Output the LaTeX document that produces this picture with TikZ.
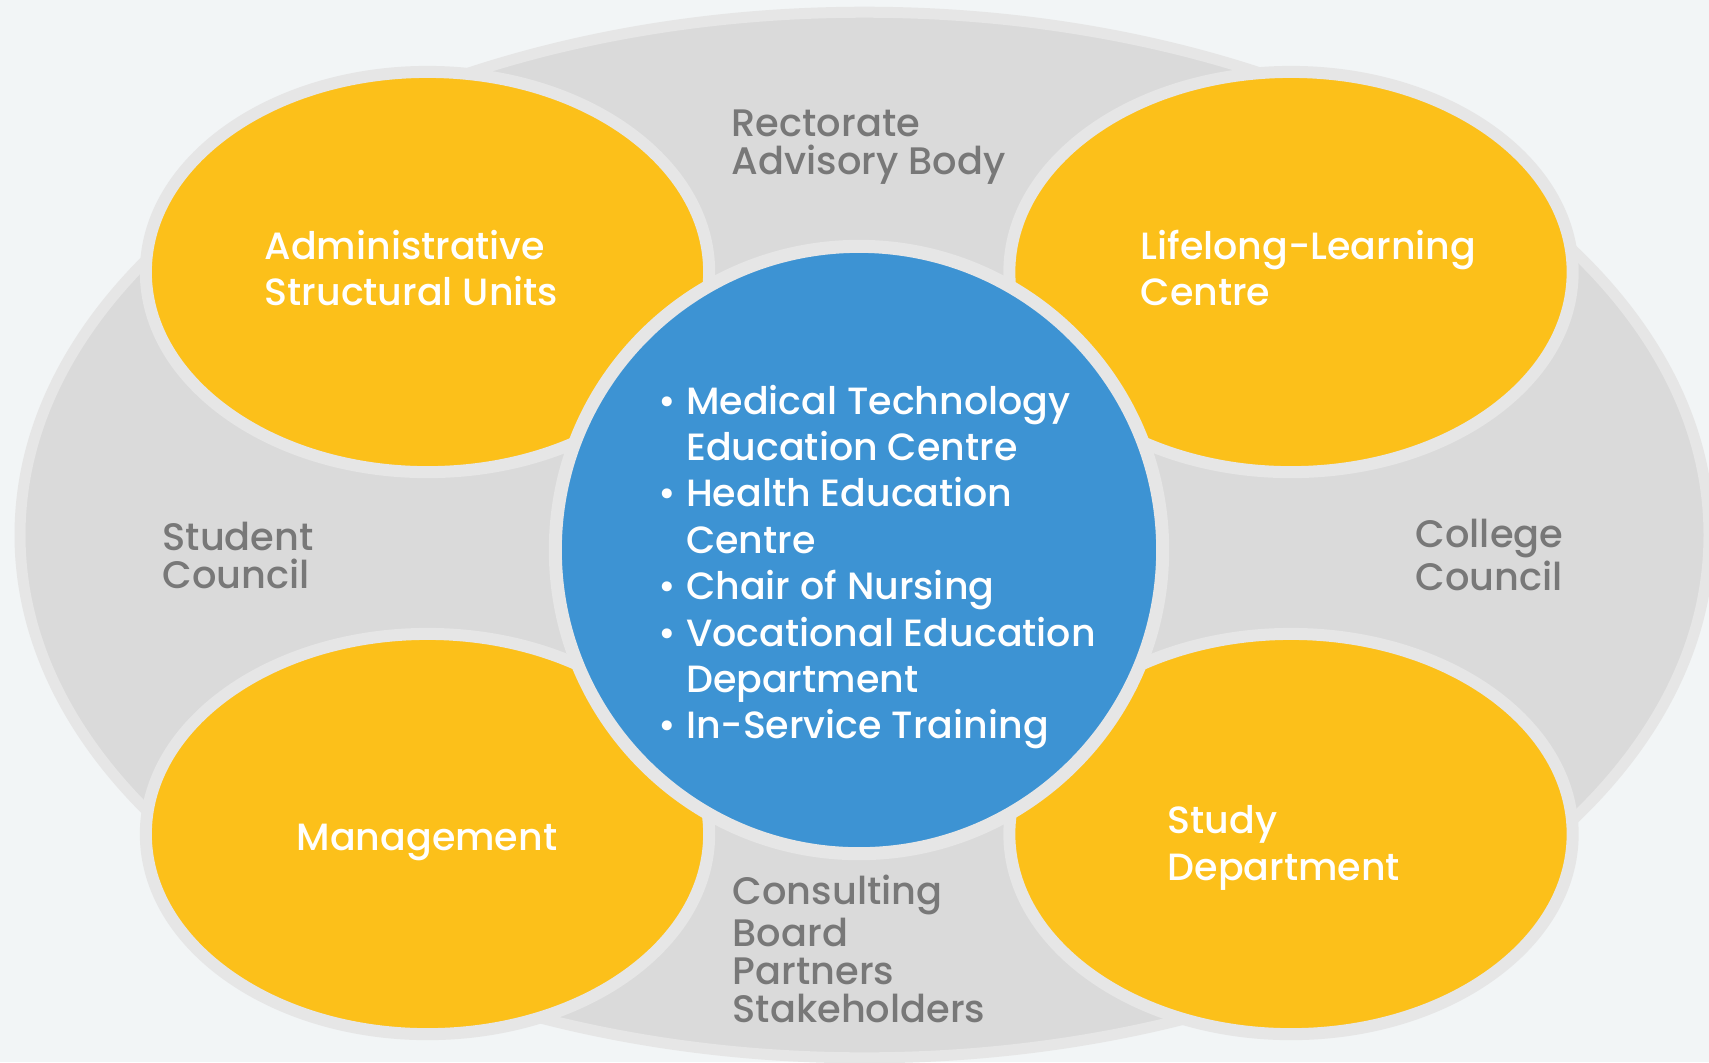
\documentclass[tikz,border=0pt]{standalone}
\usepackage{fontspec}
\setmainfont{Poppins}
\newfontfamily\medfont{Poppins Medium}
\usetikzlibrary{shapes.geometric}

\definecolor{bgcol}{RGB}{242,245,246}
\definecolor{ringgray}{RGB}{218,218,218}
\definecolor{rimgray}{RGB}{230,230,230}
\definecolor{unitorange}{RGB}{252,192,26}
\definecolor{coreblue}{RGB}{61,147,211}
\definecolor{labelgray}{RGB}{120,120,120}

\begin{document}
\begin{tikzpicture}[x=0.01cm,y=-0.01cm,
        unit/.style={draw=rimgray,fill=unitorange,ellipse,line width=0.12cm,
                     minimum width=5.63cm,minimum height=4cm,inner sep=0,outer sep=0},
        whitetext/.style={text=white,align=left,anchor=west,inner sep=0,
                          font=\medfont\fontsize{10.8}{13.2}\selectfont},
        graytext/.style={text=labelgray,align=left,anchor=west,inner sep=0,
                         font=\medfont\fontsize{10.9}{10.8}\selectfont}]
        \useasboundingbox (0,0) rectangle (1709,1062);
        \fill[bgcol] (0,0) rectangle (1709,1062);

        % Outer ring
        \node[draw=rimgray,fill=ringgray,ellipse,line width=0.11cm,
              minimum width=16.88cm,minimum height=10.45cm,inner sep=0] (ring) at (864.5,535) {};

        % Units
        \node[unit] (adm) at (427.5,272) {};
        \node[unit] (llc) at (1291,272) {};
        \node[unit] (mgt) at (427.5,834) {};
        \node[unit] (std) at (1291,834) {};

        % Core
        \node[draw=rimgray,fill=coreblue,circle,line width=0.13cm,
              minimum size=6.07cm,inner sep=0] (core) at (859,550) {};

        % Unit texts
        \node[whitetext] (admtxt) at (264,268) {Administrative\\Structural Units};
        \node[whitetext] (llctxt) at (1140,268) {Lifelong-Learning\\Centre};
        \node[whitetext] (mgttxt) at (296,842) {Management};
        \node[whitetext] (stdtxt) at (1167,848) {Study\\Department};

        % Core list
        \node[whitetext] (list) at (658,567)
            {\textbullet\ Medical Technology\\
             \hphantom{\textbullet\ }Education Centre\\
             \textbullet\ Health Education\\
             \hphantom{\textbullet\ }Centre\\
             \textbullet\ Chair of Nursing\\
             \textbullet\ Vocational Education\\
             \hphantom{\textbullet\ }Department\\
             \textbullet\ In-Service Training};

        % Ring labels
        \node[graytext] (rect) at (731,147) {Rectorate\\Advisory Body};
        \node[graytext] (stud) at (162,555) {Student\\Council};
        \node[graytext] (coll) at (1415,555) {College\\Council};
        \node[graytext] (cons) at (732,949) {Consulting\\Board\\Partners\\Stakeholders};
    \end{tikzpicture}
\end{document}
